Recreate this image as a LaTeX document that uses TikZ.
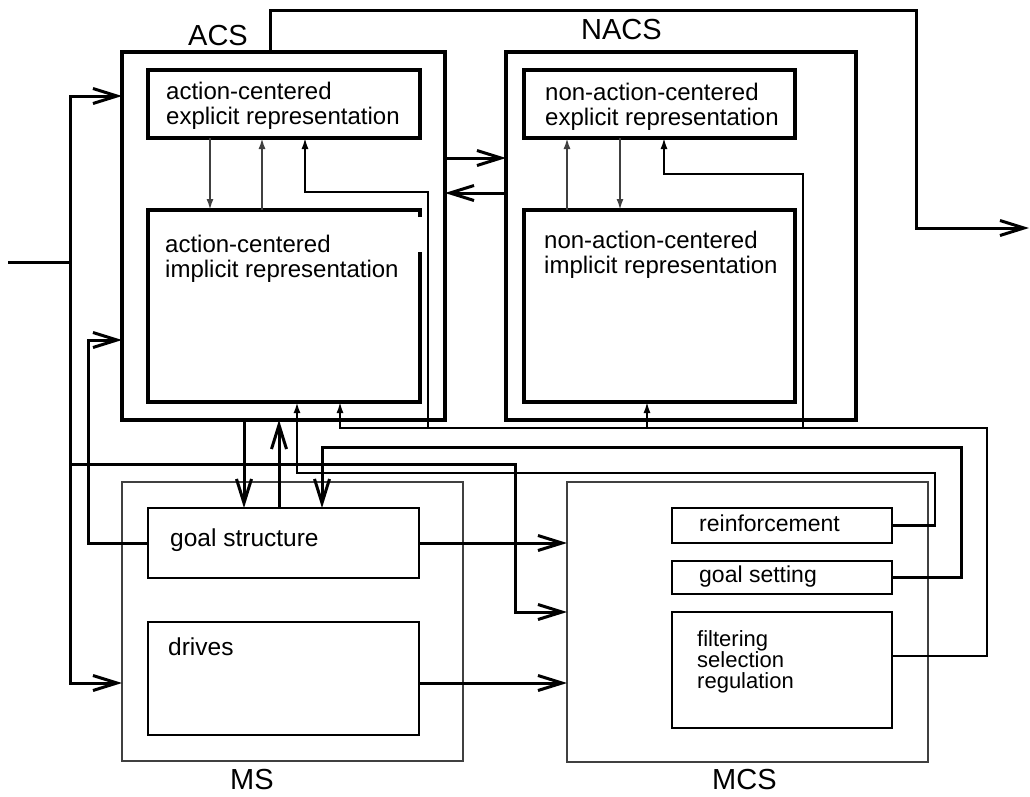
\documentclass[tikz,border=0pt]{standalone}
\usepackage{fontspec}
\setmainfont{Liberation Sans}
\usetikzlibrary{arrows.meta}

\begin{document}
\begin{tikzpicture}[x=1pt,y=-1pt,
  box/.style={draw, line width=3.5pt, inner sep=0, outer sep=0, anchor=north west},
  lowbox/.style={draw=black!75, line width=2.4pt, inner sep=0, outer sep=0, anchor=north west},
  subbox/.style={draw, line width=2.4pt, inner sep=0, outer sep=0, anchor=north west},
  txt/.style={inner sep=0, align=left, anchor=north west, font=\fontsize{24}{25}\selectfont},
  lab/.style={inner sep=0, anchor=base west, font=\fontsize{29}{30}\selectfont},
  conn/.style={line width=3pt},
  fb/.style={line width=1.8pt},
  mid/.style={line width=2.2pt},
  inner/.style={draw=black!75, line width=2pt},
  small/.style={-{Latex[length=11pt,width=7pt]}},
  >={Straight Barb[length=24pt,width=15pt]}]
\useasboundingbox (0,0) rectangle (1030,796);

% ACS and NACS
\node[box, minimum width=323pt, minimum height=368pt] (acs) at (122,52) {};
\node[box, minimum width=272pt, minimum height=68pt] (acsexp) at (148,70) {};
\node[inner sep=0, outer sep=0, anchor=north west, minimum width=272pt, minimum height=192pt] (acsimp) at (148,210) {};
\draw[line width=3.5pt] (acsimp.north east |- 0,217) -- (acsimp.north east) -- (acsimp.north west)
  -- (acsimp.south west) -- (acsimp.south east) -- (acsimp.south east |- 0,252);
\node[box, minimum width=350pt, minimum height=368pt] (nacs) at (506,52) {};
\node[box, minimum width=271pt, minimum height=68pt] (nacsexp) at (524,70) {};
\node[box, minimum width=271pt, minimum height=192pt] (nacsimp) at (524,210) {};

% MS and MCS
\node[lowbox, minimum width=341pt, minimum height=279pt] (ms) at (122,482) {};
\node[subbox, minimum width=271pt, minimum height=70pt] (goal) at (148,508) {};
\node[subbox, minimum width=271pt, minimum height=113pt] (drives) at (148,622) {};
\node[lowbox, minimum width=361pt, minimum height=280pt] (mcs) at (567,482) {};
\node[subbox, minimum width=220pt, minimum height=35pt] (reinf) at (672,508) {};
\node[subbox, minimum width=220pt, minimum height=33pt] (gset) at (672,561) {};
\node[subbox, minimum width=220pt, minimum height=116pt] (filt) at (672,612) {};

% texts
\node[lab] (acslab) at (188,45) {ACS};
\node[lab] (nacslab) at (581,39) {NACS};
\node[lab] (mslab) at (230,789) {MS};
\node[lab] (mcslab) at (712,789) {MCS};
\node[txt] (acsexpt) at (166,82) {action-centered\\explicit representation};
\node[txt] (acsimpt) at (165,235) {action-centered\\implicit representation};
\node[txt] (nacsexpt) at (545,83) {non-action-centered\\explicit representation};
\node[txt] (nacsimpt) at (544,231) {non-action-centered\\implicit representation};
\node[txt, font=\fontsize{24.5}{25}\selectfont] (goalt) at (170,529) {goal structure};
\node[txt, font=\fontsize{24.5}{25}\selectfont] (drivest) at (168,638) {drives};
\node[txt, font=\fontsize{23}{25}\selectfont] (reinft) at (699,514.5) {reinforcement};
\node[txt, font=\fontsize{23}{25}\selectfont] (gsett) at (699,565.5) {goal setting};
\node[txt, font=\fontsize{22}{20.5}\selectfont] (filtt) at (697,630) {filtering\\selection\\regulation};

% input
\coordinate (in) at (8,262);
\coordinate (bus) at (70,262);
\draw[conn] (in) -- (bus);
\draw[conn,->] (bus) |- (acs.west |- 0,96);
\draw[conn,->] (bus) |- (ms.west |- 0,683);
\draw[conn,->] (bus) |- (515,464) |- (mcs.west |- 0,612);

% ACS -- NACS
\draw[conn,->] (acs.east |- 0,158) -- (nacs.west |- 0,158);
\draw[conn,->] (nacs.west |- 0,193) -- (acs.east |- 0,193);
\coordinate (out) at (1029,228);
\draw[conn,->] (acs.north -| 270,0) |- (916,10) |- (out);

% inside ACS and NACS
\draw[inner,small] (acsexp.south -| 210,0) -- (acsimp.north -| 210,0);
\draw[inner,small] (acsimp.north -| 262,0) -- (acsexp.south -| 262,0);
\draw[inner,small] (nacsimp.north -| 567,0) -- (nacsexp.south -| 567,0);
\draw[inner,small] (nacsexp.south -| 620,0) -- (nacsimp.north -| 620,0);

% MS
\draw[conn,->] (goal.west) -| (88,340) -- (acs.west |- 0,340);
\draw[conn,->] (acs.south -| 244,0) -- (goal.north -| 244,0);
\draw[conn,->] (goal.north -| 279,0) -- (acs.south -| 279,0);
\draw[conn,->] (goal.east) -- (mcs.west |- goal.east);
\draw[conn,->] (drives.east |- 0,683) -- (mcs.west |- 0,683);

% MCS
\draw[conn,->] (gset.east) -| (961,447) -| (goal.north -| 322,0);
\draw[mid,small] (reinf.east) -| (935,473) -| (acsimp.south -| 297,0);
\draw[fb,small] (filt.east |- 0,656) -| (987,428) -| (acsimp.south -| 340,0);
\draw[fb,small] (428,428) |- (305,192) -- (acsexp.south -| 305,0);
\draw[fb,small] (647,428) -- (nacsimp.south -| 647,0);
\draw[fb,small] (803,428) |- (664,174) -- (nacsexp.south -| 664,0);
\end{tikzpicture}
\end{document}
